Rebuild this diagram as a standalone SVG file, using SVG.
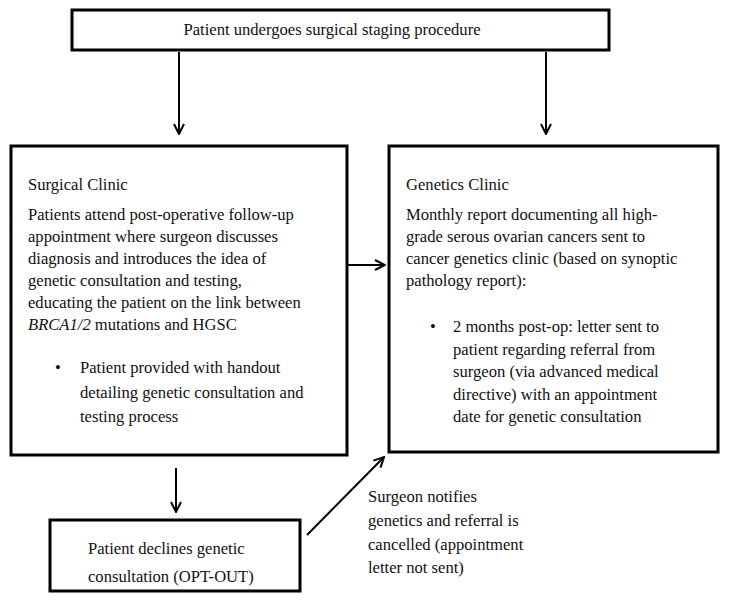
<svg xmlns="http://www.w3.org/2000/svg" width="729" height="601" viewBox="0 0 729 601">
<style>
.box{fill:#fff;stroke:#000;stroke-width:3}
.t{font-family:"Liberation Serif","Times New Roman",serif;font-size:16.6px;fill:#111}
.c{stroke:#000;stroke-width:2;fill:none}
</style>
<defs>
<marker id="ah" viewBox="0 0 12 12" refX="11" refY="6" markerWidth="12" markerHeight="12" markerUnits="userSpaceOnUse" orient="auto">
<path d="M1,1 L11,6 L1,11" fill="none" stroke="#000" stroke-width="2"/>
</marker>
</defs>
<rect width="729" height="601" fill="#fff"/>
<g id="top">
<rect class="box" x="72" y="10" width="537" height="40"/>
<text class="t" x="332" y="35" text-anchor="middle">Patient undergoes surgical staging procedure</text>
</g>
<g id="surgical">
<rect class="box" x="11" y="146" width="336" height="309"/>
<text class="t" x="28" y="190">Surgical Clinic</text>
<text class="t" x="28" y="220">Patients attend post-operative follow-up</text>
<text class="t" x="28" y="242">appointment where surgeon discusses</text>
<text class="t" x="28" y="264">diagnosis and introduces the idea of</text>
<text class="t" x="28" y="286">genetic consultation and testing,</text>
<text class="t" x="28" y="308">educating the patient on the link between</text>
<text class="t" x="28" y="330"><tspan font-style="italic">BRCA1/2</tspan> mutations and HGSC</text>
<text class="t" x="55" y="373">•</text>
<text class="t" x="80" y="373">Patient provided with handout</text>
<text class="t" x="80" y="398">detailing genetic consultation and</text>
<text class="t" x="80" y="422">testing process</text>
</g>
<g id="genetics">
<rect class="box" x="389" y="146" width="329" height="306"/>
<text class="t" x="406" y="190">Genetics Clinic</text>
<text class="t" x="406" y="220">Monthly report documenting all high-</text>
<text class="t" x="406" y="242">grade serous ovarian cancers sent to</text>
<text class="t" x="406" y="264">cancer genetics clinic (based on synoptic</text>
<text class="t" x="406" y="286">pathology report):</text>
<text class="t" x="430" y="332">•</text>
<text class="t" x="453" y="332">2 months post-op: letter sent to</text>
<text class="t" x="453" y="355">patient regarding referral from</text>
<text class="t" x="453" y="377">surgeon (via advanced medical</text>
<text class="t" x="453" y="400">directive) with an appointment</text>
<text class="t" x="453" y="422">date for genetic consultation</text>
</g>
<g id="optout">
<rect class="box" x="50" y="520" width="250" height="71"/>
<text class="t" x="88" y="554">Patient declines genetic</text>
<text class="t" x="88" y="582">consultation (OPT-OUT)</text>
</g>
<g id="connectors">
<line class="c" x1="179" y1="52" x2="179" y2="134" marker-end="url(#ah)"/>
<line class="c" x1="546" y1="52" x2="546" y2="134" marker-end="url(#ah)"/>
<line class="c" x1="348" y1="265" x2="385" y2="265" marker-end="url(#ah)"/>
<line class="c" x1="176" y1="468" x2="176" y2="512" marker-end="url(#ah)"/>
<line class="c" x1="307" y1="535" x2="384" y2="457" marker-end="url(#ah)"/>
<text class="t" x="368" y="502">Surgeon notifies</text>
<text class="t" x="368" y="526">genetics and referral is</text>
<text class="t" x="368" y="550">cancelled (appointment</text>
<text class="t" x="368" y="573">letter not sent)</text>
</g>
</svg>
